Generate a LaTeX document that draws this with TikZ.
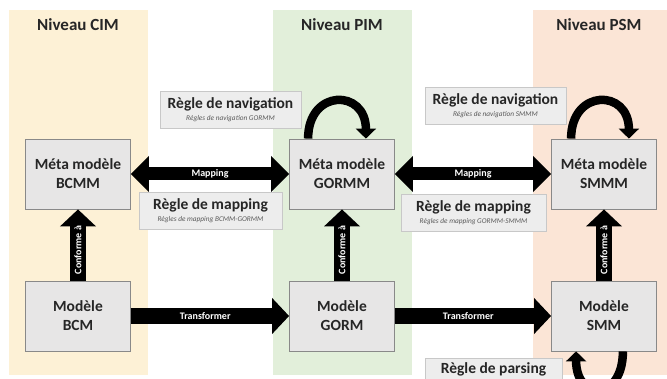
\documentclass[tikz,border=0pt]{standalone}
\usepackage{fontspec}
\setmainfont{Carlito}
\usepackage{tikz}
\usetikzlibrary{positioning}
\usetikzlibrary{arrows.meta}
\definecolor{cimfill}{RGB}{253,241,214}
\definecolor{pimfill}{RGB}{226,239,218}
\definecolor{psmfill}{RGB}{251,229,214}
\definecolor{boxfill}{RGB}{231,230,230}
\definecolor{boxdraw}{RGB}{137,137,137}
\definecolor{rulefill}{RGB}{237,237,237}
\definecolor{ruledraw}{RGB}{200,200,200}
\definecolor{txt}{RGB}{38,38,38}
\definecolor{subtxt}{RGB}{89,89,89}
\newcommand{\ruletitle}{\fontsize{15.5}{16}\selectfont\bfseries}
\newcommand{\rulesub}{\fontsize{7.3}{9}\selectfont\itshape\color{subtxt}}
\tikzset{model/.style={draw=boxdraw,fill=boxfill,line width=0.8pt,minimum width=105pt,minimum height=70pt,align=center,font=\fontsize{15.5}{19}\selectfont\bfseries,text=txt},
	rulebox/.style={draw=ruledraw,fill=rulefill,line width=0.6pt,minimum width=141pt,minimum height=37pt,align=center,inner sep=3pt,text=txt},
	level/.style={font=\fontsize{17}{18}\selectfont\bfseries,text=txt},
	fat/.style={line width=16pt,-{Triangle[length=17pt,width=35pt]}},
	fatboth/.style={line width=13pt,{Triangle[length=18pt,width=35pt]}-{Triangle[length=18pt,width=35pt]}},
	arrowtext/.style={text=white,font=\fontsize{10}{11}\selectfont\bfseries},
	selfarrow/.style={line width=8.5pt,-{Triangle[length=10pt,width=20pt]}}}
\begin{document}
\begin{tikzpicture}[x=1pt,y=-1pt]
	\useasboundingbox (0,0) rectangle (667,379); \clip (0,0) rectangle (667,379);
	\fill[cimfill] (9,10) rectangle (148,375); \fill[pimfill] (273,10) rectangle (412,375); \fill[psmfill] (533,10) rectangle (667,375);
	\node[level] (cim) at (78,25) {Niveau CIM}; \node[level] (pim) at (342,25) {Niveau PIM}; \node[level] (psm) at (599,25) {Niveau PSM};
	\node[model] (bcmm) at (78,174) {Méta modèle\\BCMM}; \node[model] (gormm) at (342,174) {Méta modèle\\GORMM}; \node[model] (smmm) at (604,174) {Méta modèle\\SMMM};
	\node[model] (bcm) at (78,316) {Modèle\\BCM}; \node[model] (gorm) at (342,316) {Modèle\\GORM}; \node[model] (smm) at (604,316) {Modèle\\SMM};
	\draw[fatboth] (bcmm) -- node[arrowtext] {Mapping} (gormm); \draw[fatboth] (gormm) -- node[arrowtext] {Mapping} (smmm);
	\draw[fat] (bcm) -- node[arrowtext,pos=.47] {Transformer} (gorm); \draw[fat] (gorm) -- node[arrowtext,pos=.47] {Transformer} (smm);
	\foreach \m/\mm in {bcm/bcmm,gorm/gormm,smm/smmm} \draw[fat] (\m) -- node[arrowtext,pos=.43,rotate=90] {Conforme à} (\mm);
	\draw[selfarrow] ([xshift=19pt]gormm.north west) .. controls +(0,-50) and +(0,-50) .. ([xshift=-29pt]gormm.north east);
	\draw[selfarrow] ([xshift=20pt]smmm.north west) .. controls +(0,-50) and +(0,-50) .. ([xshift=-28pt]smmm.north east);
	\draw[selfarrow] ([xshift=-34pt]smm.south east) .. controls +(0,50) and +(0,50) .. ([xshift=25pt]smm.south west);
	\node[rulebox] (navgormm) at (230.5,109.5) {\ruletitle Règle de navigation\\\rulesub Règles de navigation GORMM};
	\node[rulebox] (navsmmm) at (495.5,105.5) {\ruletitle Règle de navigation\\\rulesub Règles de navigation SMMM};
	\node[rulebox,minimum width=143pt] (mapbcmm) at (210.5,211) {\ruletitle Règle de mapping\\\rulesub Règles de mapping BCMM-GORMM};
	\node[rulebox,minimum width=145pt] (mapgormm) at (473.5,212.5) {\ruletitle Règle de mapping\\\rulesub Règles de mapping GORMM-SMMM};
	\node[rulebox,minimum width=137pt,anchor=north,text depth=18pt] (parsing) at (493.5,358) {\ruletitle Règle de parsing};
\end{tikzpicture}
\end{document}
